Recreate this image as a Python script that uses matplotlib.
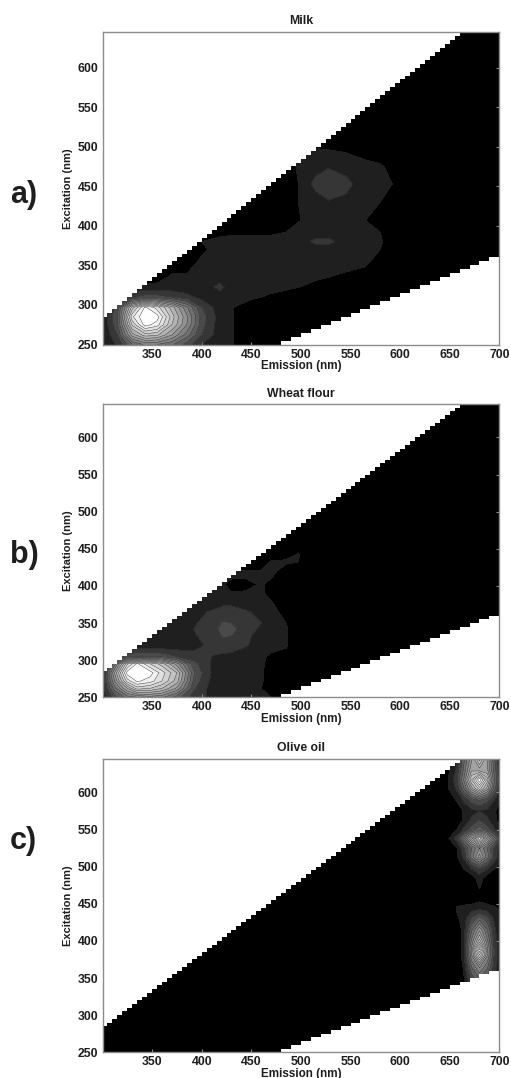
import numpy as np
import matplotlib
matplotlib.use('Agg')
from matplotlib import pyplot as plt

plt.rcParams['font.family'] = ['Liberation Sans', 'DejaVu Sans']

titles = ['Milk', 'Wheat flour', 'Olive oil']
panel_tags = ['a)', 'b)', 'c)']
xtick_vals = [350, 400, 450, 500, 550, 600, 650, 700]
ytick_vals = [250, 300, 350, 400, 450, 500, 550, 600]

em_a = [300, 315, 330, 343, 355, 370, 385, 400, 418, 432, 450, 470, 485, 500, 515, 528, 545, 565, 580, 592, 610, 700]
ex_a = [250, 262, 275, 285, 297, 310, 323, 335, 355, 370, 380, 392, 407, 430, 453, 475, 496, 510, 645]
milk = [
    [8, 22, 50, 62, 60, 52, 36, 20, 12, 10, 5, 3, 3, 2, 2, 2, 2, 2, 2, 2, 2, 2],
    [9, 30, 85, 105, 102, 80, 55, 30, 14, 10, 5, 3, 3, 2, 2, 2, 2, 2, 2, 2, 2, 2],
    [10, 38, 112, 145, 135, 100, 70, 34, 15, 10, 5, 4, 3, 2, 2, 2, 2, 2, 2, 2, 2, 2],
    [10, 40, 128, 150, 145, 105, 72, 36, 15, 10, 5, 4, 3, 2, 2, 2, 2, 2, 2, 2, 2, 2],
    [12, 35, 105, 142, 125, 95, 62, 30, 14, 10, 7, 6, 5, 4, 3, 2, 2, 2, 2, 2, 2, 2],
    [12, 18, 28, 35, 35, 30, 24, 16, 13, 12, 11, 9, 8, 7, 5, 4, 3, 2, 2, 2, 2, 2],
    [12, 12, 12, 12, 12, 13, 12, 12, 24, 12, 12, 12, 11, 10, 8, 7, 6, 5, 4, 3, 2, 2],
    [5, 5, 5, 5, 7, 11, 11, 12, 12, 12, 12, 12, 12, 12, 11, 10, 9, 8, 6, 4, 2, 2],
    [0, 0, 0, 0, 0, 7, 7, 11, 12, 12, 12, 12, 12, 12, 12, 12, 12, 11, 8, 5, 2, 2],
    [0, 0, 0, 0, 0, 0, 6, 9, 12, 12, 12, 12, 12, 12, 12, 13, 12, 12, 10, 6, 2, 2],
    [0, 0, 0, 0, 0, 0, 0, 10, 12, 12, 12, 12, 12, 12, 24, 24, 12, 12, 11, 6, 2, 2],
    [0, 0, 0, 0, 0, 0, 0, 0, 8, 9, 9, 9, 10, 12, 12, 12, 12, 12, 10, 5, 2, 2],
    [0, 0, 0, 0, 0, 0, 0, 0, 0, 0, 3, 5, 7, 10, 12, 12, 12, 10, 7, 4, 2, 2],
    [0, 0, 0, 0, 0, 0, 0, 0, 0, 0, 0, 2, 5, 11, 14, 19, 17, 12, 10, 6, 2, 2],
    [0, 0, 0, 0, 0, 0, 0, 0, 0, 0, 0, 2, 5, 11, 24, 28, 24, 13, 12, 10, 2, 2],
    [0, 0, 0, 0, 0, 0, 0, 0, 0, 0, 0, 2, 8, 11, 15, 19, 15, 12, 11, 8, 2, 2],
    [0, 0, 0, 0, 0, 0, 0, 0, 0, 0, 0, 0, 3, 11, 11, 10, 9, 7, 5, 3, 2, 2],
    [0, 0, 0, 0, 0, 0, 0, 0, 0, 0, 0, 0, 0, 2, 2, 2, 2, 2, 2, 2, 2, 2],
    [0, 0, 0, 0, 0, 0, 0, 0, 0, 0, 0, 0, 0, 0, 0, 0, 0, 0, 0, 0, 0, 0],
]

em_b = [300, 312, 325, 335, 348, 360, 375, 392, 405, 415, 422, 430, 445, 460, 470, 485, 497, 510, 700]
ex_b = [250, 262, 272, 283, 295, 305, 320, 335, 342, 350, 365, 375, 390, 402, 411, 420, 433, 442, 455, 645]
wheat = [
    [12, 35, 55, 60, 65, 62, 45, 25, 20, 13, 13, 13, 12, 11, 10, 5, 3, 2, 2],
    [14, 55, 90, 115, 110, 100, 78, 32, 20, 14, 13, 13, 12, 10, 8, 3, 2, 2, 2],
    [15, 70, 125, 142, 135, 120, 95, 38, 22, 14, 13, 13, 12, 11, 6, 3, 2, 2, 2],
    [15, 80, 145, 150, 145, 125, 100, 42, 24, 15, 13, 13, 12, 11, 6, 3, 2, 2, 2],
    [15, 55, 118, 142, 120, 105, 75, 34, 22, 16, 14, 13, 12, 11, 8, 5, 3, 2, 2],
    [14, 20, 35, 40, 40, 38, 30, 24, 21, 19, 18, 17, 14, 11, 9, 7, 4, 2, 2],
    [12, 12, 12, 12, 12, 12, 13, 16, 21, 24, 26, 25, 21, 14, 12, 11, 5, 2, 2],
    [12, 12, 12, 12, 12, 12, 14, 19, 24, 28, 32, 31, 24, 14, 12, 11, 4, 2, 2],
    [11, 11, 11, 11, 11, 11, 13, 20, 25, 29, 35, 33, 25, 18, 12, 11, 4, 2, 2],
    [0, 0, 0, 0, 12, 12, 12, 18, 25, 28, 31, 30, 24, 20, 12, 10, 3, 2, 2],
    [0, 0, 0, 0, 0, 12, 12, 12, 20, 23, 24, 24, 22, 14, 12, 8, 3, 2, 2],
    [0, 0, 0, 0, 0, 0, 12, 12, 13, 16, 19, 19, 13, 12, 11, 6, 3, 2, 2],
    [0, 0, 0, 0, 0, 0, 0, 12, 12, 12, 12, 11, 12, 11, 8, 4, 2, 2, 2],
    [0, 0, 0, 0, 0, 0, 0, 0, 11, 11, 11, 5, 5, 12, 5, 3, 2, 2, 2],
    [0, 0, 0, 0, 0, 0, 0, 0, 0, 0, 11, 11, 11, 13, 10.5, 3, 2, 2, 2],
    [0, 0, 0, 0, 0, 0, 0, 0, 0, 0, 0, 11, 11, 10.5, 13, 5, 2, 2, 2],
    [0, 0, 0, 0, 0, 0, 0, 0, 0, 0, 0, 0, 0, 4, 10.5, 12, 10.5, 2, 2],
    [0, 0, 0, 0, 0, 0, 0, 0, 0, 0, 0, 0, 0, 2, 2, 4, 11, 2, 2],
    [0, 0, 0, 0, 0, 0, 0, 0, 0, 0, 0, 0, 0, 0, 0, 0, 0, 0, 0],
    [0, 0, 0, 0, 0, 0, 0, 0, 0, 0, 0, 0, 0, 0, 0, 0, 0, 0, 0],
]

em_c = [300, 640, 650, 657, 664, 672, 680, 688, 695, 700]
ex_c = [250, 350, 365, 380, 390, 400, 415, 430, 445, 460, 473, 485, 497, 513, 525, 538, 550, 563, 575, 590, 605, 617, 630, 645]
olive = [
    [0, 0, 0, 0, 0, 0, 0, 0, 0, 0],
    [0, 0, 0, 0, 8, 35, 50, 38, 20, 12],
    [0, 0, 0, 0, 11, 50, 72, 52, 25, 15],
    [0, 0, 0, 0, 15, 68, 118, 70, 28, 15],
    [0, 0, 0, 0, 15, 72, 145, 72, 28, 15],
    [0, 0, 0, 0, 15, 62, 105, 62, 25, 15],
    [0, 0, 0, 0, 14, 48, 78, 50, 22, 14],
    [0, 0, 0, 8, 14, 32, 45, 34, 18, 12],
    [0, 0, 0, 11, 12, 13, 15, 13, 11, 9],
    [0, 0, 0, 0, 2, 3, 5, 3, 2, 0],
    [0, 0, 0, 0, 0, 3, 11, 3, 0, 0],
    [0, 0, 0, 0, 2, 4, 15, 4, 2, 0],
    [0, 0, 0, 2, 10, 20, 28, 20, 10, 6],
    [0, 0, 0, 8, 22, 55, 85, 55, 28, 14],
    [0, 0, 2, 9, 28, 50, 70, 50, 28, 18],
    [0, 0, 11, 25, 55, 95, 150, 95, 55, 32],
    [0, 0, 2, 10, 22, 36, 45, 36, 22, 12],
    [0, 0, 0, 2, 11, 22, 30, 22, 12, 8],
    [0, 0, 0, 2, 11, 17, 20, 17, 11, 7],
    [0, 0, 5, 11, 22, 36, 42, 34, 20, 12],
    [0, 0, 11, 22, 48, 85, 115, 85, 45, 24],
    [0, 0, 12, 28, 60, 110, 150, 105, 52, 30],
    [0, 0, 10, 22, 52, 88, 85, 82, 46, 26],
    [0, 0, 8, 18, 46, 78, 115, 78, 42, 24],
]

# measured range, white outside it
em_upper = [300, 305, 310, 315, 320, 325, 330, 335, 340, 345, 350, 355, 360, 365, 370, 375, 380, 385, 390, 395,
            400, 405, 410, 415, 420, 425, 430, 435, 440, 445, 450, 455, 460, 465, 470, 475, 480, 485, 490, 495,
            500, 505, 510, 515, 520, 525, 530, 535, 540, 545, 550, 555, 560, 565, 570, 575, 580, 585, 590, 595,
            600, 605, 610, 615, 620, 625, 630, 635, 640, 645, 650, 655, 660]
ex_upper = [285, 290, 295, 300, 305, 310, 315, 320, 325, 330, 335, 340, 345, 350, 355, 360, 365, 370, 375, 380,
            385, 390, 395, 400, 405, 410, 415, 420, 425, 430, 435, 440, 445, 450, 455, 460, 465, 470, 475, 480,
            485, 490, 495, 500, 505, 510, 515, 520, 525, 530, 535, 540, 545, 550, 555, 560, 565, 570, 575, 580,
            585, 590, 595, 600, 605, 610, 615, 620, 625, 630, 635, 640, 645]
em_lower = [480, 490, 500, 510, 520, 530, 540, 550, 560, 570, 580, 590, 600, 610, 620, 630, 640, 650, 660, 670, 680, 690, 700]
ex_lower = [255, 260, 265, 270, 275, 280, 285, 290, 295, 300, 305, 310, 315, 320, 325, 330, 335, 340, 345, 350, 355, 360, 360]

levels = list(range(0, 150, 10)) + [160]
band_colors = [str((k / 14.) ** 0.8) for k in range(15)]
W, H = 511., 1078.
spine_col = '#8c8c8c'
text_col = '#1e1e1e'

# axes boxes in pixels: top, bottom
boxes = [(32, 344.5), (404, 697.3), (759, 1052.3)]
tag_y = [195, 555, 841]
title_pad = [6, 5, 6]
grids = [(em_a, ex_a, milk), (em_b, ex_b, wheat), (em_c, ex_c, olive)]

fig = plt.figure(figsize=(W / 100, H / 100), dpi=100)
for i in range(3):
    top, bottom = boxes[i]
    ax = fig.add_axes([102.5 / W, 1 - bottom / H, (499.3 - 102.5) / W, (bottom - top) / H])
    em, ex, vals = grids[i]
    ax.contourf(em, ex, np.array(vals, dtype=float), levels=levels, colors=band_colors)
    ax.contour(em, ex, np.array(vals, dtype=float), levels=levels[2:-1], colors='#222222', linewidths=0.3)
    ax.fill_between(em_upper, ex_upper, 650, step='post', color='white', lw=0, zorder=3)
    ax.fill_between(em_lower, 240, ex_lower, step='post', color='white', lw=0, zorder=3)
    ax.set_xlim(300, 700)
    ax.set_ylim(250, 645)
    ax.set_xticks(xtick_vals)
    ax.set_yticks(ytick_vals)
    ax.tick_params(direction='in', top=True, right=True, length=2.5, width=0.8, color=spine_col,
                   labelsize=8.8, labelcolor=text_col, pad=3)
    for lab in ax.get_xticklabels() + ax.get_yticklabels():
        lab.set_fontweight('bold')
    for s in ax.spines.values():
        s.set_color(spine_col)
        s.set_linewidth(1.0)
        s.set_zorder(5)
    ax.set_title(titles[i], fontsize=8.8, fontweight='bold', color=text_col, pad=title_pad[i])
    ax.set_xlabel('Emission (nm)', fontsize=8.4, fontweight='bold', color=text_col, labelpad=-0.5)
    ax.set_ylabel('Excitation (nm)', fontsize=8, fontweight='bold', color=text_col, labelpad=3)
    fig.text(10 / W, 1 - tag_y[i] / H, panel_tags[i], fontsize=22, fontweight='bold', color=text_col, va='center')

fig.savefig('out.png', dpi=100)
